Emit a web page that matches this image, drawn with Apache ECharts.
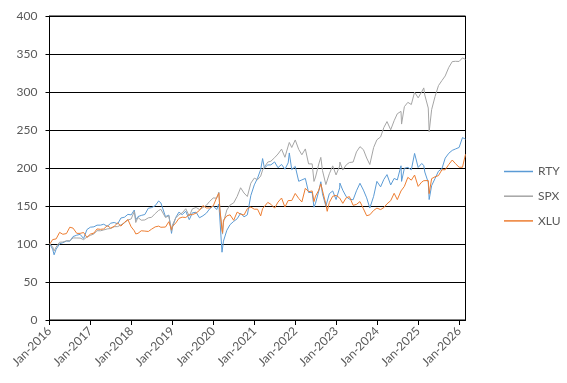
<!DOCTYPE html>
<html>
<head>
<meta charset="utf-8">
<script src="https://cdn.jsdelivr.net/npm/echarts@6/dist/echarts.min.js"></script>
<style>html,body{margin:0;padding:0;background:#fff;}#c{width:567px;height:383px;}</style>
</head>
<body>
<div id="c"></div>
<script>
var dates = [
'2016-01-04','2016-01-29','2016-02-11','2016-02-29','2016-03-31','2016-04-29','2016-05-31','2016-06-30','2016-07-29','2016-08-31','2016-09-30','2016-10-31','2016-11-30','2016-12-30',
'2017-01-31','2017-02-28','2017-03-31','2017-04-28','2017-05-31','2017-06-30','2017-07-31','2017-08-31','2017-09-29','2017-10-31','2017-11-30','2017-12-29',
'2018-01-26','2018-02-08','2018-02-28','2018-03-29','2018-04-30','2018-05-31','2018-06-29','2018-07-31','2018-08-31','2018-09-20','2018-10-31','2018-11-30','2018-12-24','2018-12-31',
'2019-01-31','2019-02-28','2019-03-29','2019-04-30','2019-05-31','2019-06-28','2019-07-31','2019-08-30','2019-09-30','2019-10-31','2019-11-29','2019-12-31',
'2020-01-31','2020-02-19','2020-02-28','2020-03-18','2020-03-23','2020-03-31','2020-04-30','2020-05-29','2020-06-30','2020-07-31','2020-08-31','2020-09-30','2020-10-30','2020-11-30','2020-12-31',
'2021-01-29','2021-02-26','2021-03-15','2021-03-31','2021-04-30','2021-05-28','2021-06-30','2021-07-30','2021-08-31','2021-09-30','2021-10-29','2021-11-08','2021-11-30','2021-12-31',
'2022-01-03','2022-01-31','2022-02-28','2022-03-31','2022-04-29','2022-05-31','2022-06-16','2022-06-30','2022-07-29','2022-08-16','2022-08-31','2022-09-30','2022-10-12','2022-10-31','2022-11-30','2022-12-30',
'2023-01-31','2023-02-02','2023-02-28','2023-03-31','2023-04-28','2023-05-31','2023-06-30','2023-07-31','2023-08-31','2023-09-29','2023-10-27','2023-11-30','2023-12-29',
'2024-01-31','2024-02-29','2024-03-28','2024-04-30','2024-05-31','2024-06-28','2024-07-31','2024-08-05','2024-08-30','2024-09-30','2024-10-31','2024-11-29','2024-12-31',
'2025-01-31','2025-02-19','2025-02-28','2025-03-31','2025-04-08','2025-04-30','2025-05-30','2025-06-30','2025-07-31','2025-08-29','2025-09-30','2025-10-31','2025-11-28','2025-12-31',
'2026-01-30','2026-02-26'];

var rty = [
100, 93.2, 85.8, 93.1, 100.3, 101.7, 103.9, 103.7, 109.8, 111.6, 112.7, 107.2, 119.0, 122.1,
122.6, 124.8, 124.8, 126.0, 123.3, 127.4, 128.3, 126.5, 134.2, 135.3, 139.0, 138.3,
144.7, 131.7, 136.1, 137.6, 138.8, 147.1, 147.9, 150.3, 156.6, 154.1, 136.0, 138.0, 114.0, 121.4,
135.0, 141.9, 138.6, 143.2, 132.0, 141.0, 141.8, 134.5, 137.1, 140.6, 146.3, 150.1,
145.3, 152.7, 132.9, 89.2, 91.3, 103.8, 118.0, 125.5, 129.7, 133.2, 140.5, 135.7, 138.4, 163.7, 177.8,
186.6, 198.1, 212.4, 199.9, 204.0, 204.1, 208.0, 200.4, 204.7, 198.4, 206.8, 219.8, 197.9, 202.1,
204.6, 182.5, 184.3, 186.3, 167.8, 167.8, 148.4, 153.7, 169.7, 181.9, 166.0, 149.8, 151.4, 166.2, 169.8, 158.5,
173.8, 180.1, 170.7, 162.2, 159.1, 158.2, 170.0, 179.9, 170.9, 160.7, 147.3, 162.8, 182.4,
175.2, 185.0, 191.3, 177.7, 186.3, 184.3, 202.9, 182.4, 199.6, 200.7, 197.7, 219.2, 200.7,
205.9, 203.4, 194.7, 181.0, 158.5, 176.8, 186.0, 195.8, 199.1, 213.0, 219.4, 223.2, 225.0, 227.0,
240.0, 238.0];

var spx = [
100, 96.4, 90.9, 96.0, 102.4, 102.6, 104.2, 104.3, 108.0, 107.9, 107.8, 105.7, 109.3, 111.3,
113.3, 117.5, 117.4, 118.5, 119.9, 120.4, 122.8, 122.9, 125.2, 128.0, 131.6, 132.9,
142.8, 128.3, 134.9, 131.3, 131.6, 134.4, 135.1, 140.0, 144.2, 145.7, 134.8, 137.2, 116.8, 124.6,
134.4, 138.4, 140.9, 146.4, 136.8, 146.2, 148.1, 145.4, 148.0, 151.0, 156.1, 160.6,
160.3, 168.3, 146.8, 119.2, 113.0, 128.5, 144.7, 151.3, 154.1, 162.6, 174.0, 167.1, 162.5, 180.0, 186.7,
184.6, 189.4, 197.3, 197.5, 207.8, 208.9, 213.6, 218.4, 224.8, 214.1, 228.9, 233.6, 227.0, 236.9,
238.4, 224.5, 217.4, 225.1, 205.4, 205.4, 182.3, 188.1, 205.3, 214.0, 196.6, 178.2, 177.8, 192.4, 202.8, 190.9,
202.6, 207.8, 197.3, 204.2, 207.2, 207.8, 221.2, 228.1, 224.1, 213.1, 204.6, 227.0, 237.1,
240.9, 253.3, 261.1, 250.3, 262.3, 271.4, 274.5, 257.8, 280.7, 286.4, 283.5, 299.8, 292.3,
300.2, 305.4, 296.0, 278.9, 247.7, 276.8, 293.8, 308.4, 315.1, 321.1, 332.4, 340.0, 340.4, 340.2,
344.9, 342.9];

var xlu = [
100, 105.8, 104.7, 106.7, 115.3, 112.8, 113.7, 122.1, 120.9, 114.0, 114.0, 115.1, 108.6, 113.0,
114.4, 119.8, 119.3, 119.8, 124.2, 120.9, 123.3, 127.7, 123.5, 128.6, 132.1, 122.6,
117.4, 113.3, 114.0, 117.4, 117.0, 116.5, 119.5, 122.5, 123.5, 122.0, 122.3, 129.3, 118.6, 123.0,
127.7, 133.7, 135.3, 134.9, 138.6, 138.6, 140.7, 144.2, 150.5, 147.4, 147.4, 150.2,
161.2, 166.7, 145.3, 118.4, 115.0, 131.2, 137.0, 138.4, 131.2, 141.9, 139.3, 138.1, 146.5, 148.6, 145.8,
145.8, 137.0, 146.5, 148.8, 154.7, 152.3, 147.2, 155.1, 160.5, 148.6, 157.2, 155.8, 157.2, 166.5,
165.1, 160.0, 155.3, 173.3, 168.8, 169.8, 155.8, 163.0, 170.9, 179.1, 177.9, 152.3, 143.0, 154.7, 162.8, 164.0,
160.5, 161.6, 153.5, 160.9, 162.3, 150.9, 152.1, 155.8, 146.3, 137.2, 138.4, 144.2, 147.2,
145.3, 147.9, 152.8, 157.0, 166.7, 158.4, 169.8, 167.4, 175.8, 187.7, 184.0, 190.7, 175.8,
181.4, 183.3, 185.3, 183.5, 166.3, 186.0, 188.4, 190.0, 197.7, 197.7, 204.7, 210.5, 205.8, 201.0,
201.0, 218.0];

var seriesNames = ['RTY', 'SPX', 'XLU'];
var seriesColors = ['#5B9BD5', '#A5A5A5', '#ED7D31'];
var tickYears = [2016, 2017, 2018, 2019, 2020, 2021, 2022, 2023, 2024, 2025, 2026];
var yTicks = [0, 50, 100, 150, 200, 250, 300, 350, 400];

function parse(s) { var p = s.split('-'); return Date.UTC(+p[0], +p[1] - 1, +p[2]); }
function zip(vals) { return dates.map(function (d, i) { return [parse(d), vals[i]]; }); }

var tickValues = tickYears.map(function (y) { return Date.UTC(y, 0, 1); });
var font = 'Lato, "Liberation Sans", sans-serif';

var chart = echarts.init(document.getElementById('c'), null, { renderer: 'canvas' });
chart.setOption({
  animation: false,
  backgroundColor: '#fff',
  grid: { left: 49.5, right: 101.5, top: 16, bottom: 63, show: true, borderColor: '#000', borderWidth: 1, containLabel: false },
  legend: {
    orient: 'vertical', left: 499, top: 159.5,
    icon: 'rect', itemWidth: 29, itemHeight: 1.5, itemGap: 10.7,
    textStyle: { color: '#595959', fontFamily: font, fontSize: 12, lineHeight: 14 },
    data: seriesNames
  },
  xAxis: {
    type: 'value',
    min: tickValues[0],
    max: parse(dates[dates.length - 1]),
    axisLine: { show: true, onZero: false, lineStyle: { color: '#000', width: 1 } },
    axisTick: { show: true, length: 5, lineStyle: { color: '#000' }, customValues: tickValues },
    axisLabel: {
      customValues: tickValues,
      rotate: 45, margin: 9, color: '#595959', fontFamily: font, fontSize: 12,
      formatter: function (v) { return 'Jan-' + new Date(v).getUTCFullYear(); }
    },
    splitLine: { show: false }
  },
  yAxis: {
    type: 'value', min: yTicks[0], max: yTicks[yTicks.length - 1], interval: 50,
    axisLine: { show: true, lineStyle: { color: '#000', width: 1 } },
    axisTick: { show: true, length: 4, lineStyle: { color: '#000' } },
    axisLabel: { margin: 12, color: '#595959', fontFamily: font, fontSize: 12 },
    splitLine: { show: true, lineStyle: { color: '#000', width: 1 } }
  },
  series: [rty, spx, xlu].map(function (vals, i) {
    return {
      name: seriesNames[i], type: 'line', data: zip(vals),
      showSymbol: false, symbol: 'none',
      lineStyle: { color: seriesColors[i], width: 1 },
      itemStyle: { color: seriesColors[i] }
    };
  })
});
</script>
</body>
</html>
